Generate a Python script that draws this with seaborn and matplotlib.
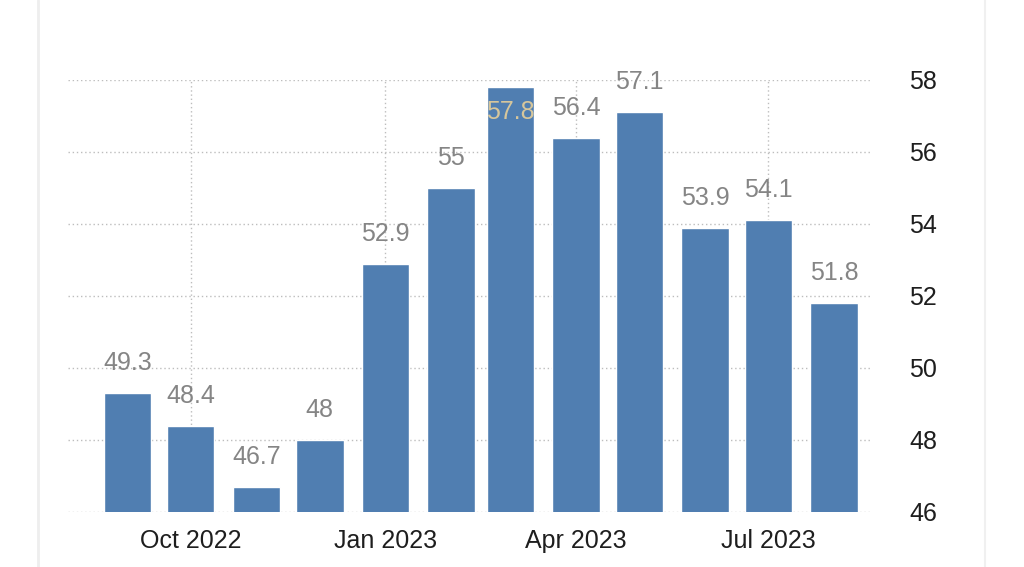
import matplotlib
matplotlib.use("Agg")
import matplotlib.pyplot as plt
import matplotlib.dates as mdates
from matplotlib.lines import Line2D
import seaborn as sns
import pandas as pd
import datetime as dt

months = ["2022-09", "2022-10", "2022-11", "2022-12", "2023-01", "2023-02",
          "2023-03", "2023-04", "2023-05", "2023-06", "2023-07", "2023-08"]
values = [49.3, 48.4, 46.7, 48.0, 52.9, 55.0, 57.8, 56.4, 57.1, 53.9, 54.1, 51.8]
labels = ["49.3", "48.4", "46.7", "48", "52.9", "55", "57.8", "56.4", "57.1", "53.9", "54.1", "51.8"]
y_ticks = [46, 48, 50, 52, 54, 56, 58]
x_ticks = ["2022-10-01", "2023-01-01", "2023-04-01", "2023-07-01"]
x_tick_labels = ["Oct 2022", "Jan 2023", "Apr 2023", "Jul 2023"]

sns.set_style("white")
plt.rcParams["font.family"] = ["Liberation Sans", "DejaVu Sans"]

dates = pd.to_datetime([m + "-01" for m in months])
df = pd.DataFrame({"x": mdates.date2num(dates), "v": values})

fig = plt.figure(figsize=(10.24, 5.67), dpi=100)
ax = fig.add_axes([68 / 1024, 1 - 512 / 567, (870 - 68) / 1024, (512 - 80) / 567])

sns.barplot(data=df, x="x", y="v", native_scale=True, color="#507eb1",
            saturation=1, width=0.8, ax=ax, zorder=3)

ax.set_ylim(46, 58)
ax.set_xlim(mdates.date2num(dt.datetime(2022, 8, 4)), mdates.date2num(dt.datetime(2023, 8, 18)))
ax.set_xlabel("")
ax.set_ylabel("")

ax.set_yticks(y_ticks)
ax.yaxis.tick_right()
ax.tick_params(axis="y", length=0, pad=28, labelsize=18, labelcolor="#1e1e1e")
ax.set_xticks(mdates.date2num(pd.to_datetime(x_ticks)))
ax.set_xticklabels(x_tick_labels)
ax.tick_params(axis="x", length=4, width=1, color="#bbbbbb", pad=8, labelsize=18, labelcolor="#1e1e1e")

ax.grid(True, axis="both", linestyle=(0, (1, 2)), color="#bdbdbd", linewidth=1, zorder=0)
ax.set_axisbelow(True)
for s in ax.spines.values():
    s.set_visible(False)

ymax = ax.get_ylim()[1]
for xv, v, lab in zip(df["x"], values, labels):
    if v > ymax - 0.5:
        ax.annotate(lab, (xv, v), xytext=(0, -18), textcoords="offset points",
                    ha="center", va="center", fontsize=18, color="#d6c69c", zorder=4)
    else:
        ax.annotate(lab, (xv, v), xytext=(0, 13), textcoords="offset points",
                    ha="center", va="bottom", fontsize=18, color="#858585",
                    zorder=4, annotation_clip=False)

fig.add_artist(Line2D([38 / 1024, 38 / 1024], [0, 1], color="#eeeeee", linewidth=2, transform=fig.transFigure))
fig.add_artist(Line2D([985 / 1024, 985 / 1024], [0, 1], color="#f0f0f0", linewidth=1.5, transform=fig.transFigure))

fig.savefig("out.png", dpi=100)
